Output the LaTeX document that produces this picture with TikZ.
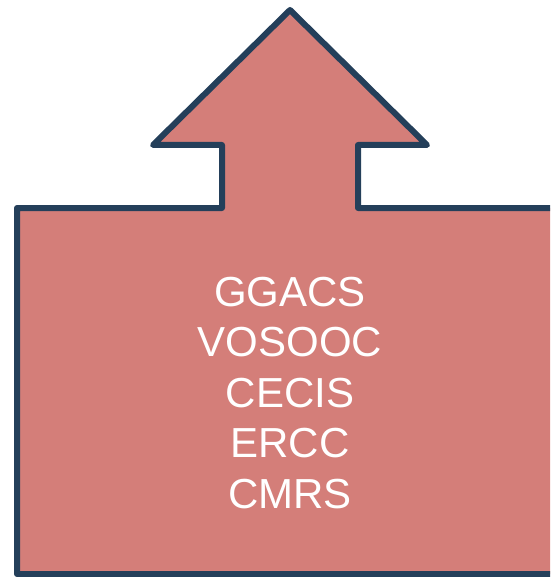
\documentclass[tikz,border=0pt]{standalone}
\usepackage{fontspec}
\setmainfont{Liberation Sans}
\usepackage{tikz}

\definecolor{arrowfill}{RGB}{212,126,121}
\definecolor{arrowline}{RGB}{36,63,90}

\tikzset{
  upcallout/.style={fill=arrowfill, draw=arrowline, line width=6pt, line join=round},
  calltext/.style={text=white, font=\fontsize{42}{50.5}\selectfont, align=center}
}

\begin{document}
\begin{tikzpicture}[x=1pt, y=-1pt]
				% Frame
				\clip (0, 0) rectangle (550, 577);
				
				% Callout with arrow
				\draw[upcallout] (17, 208) -- (222, 208) -- (222, 145) -- (153, 145)
				  -- (290, 10) -- (427, 145) -- (358, 145) -- (358, 208)
				  -- (563, 208) -- (563, 574) -- (17, 574) -- cycle;
				
				% Labels
				\node[calltext] (labels) at (290, 393) {GGACS\\VOSOOC\\CECIS\\ERCC\\CMRS};
			\end{tikzpicture}
\end{document}
